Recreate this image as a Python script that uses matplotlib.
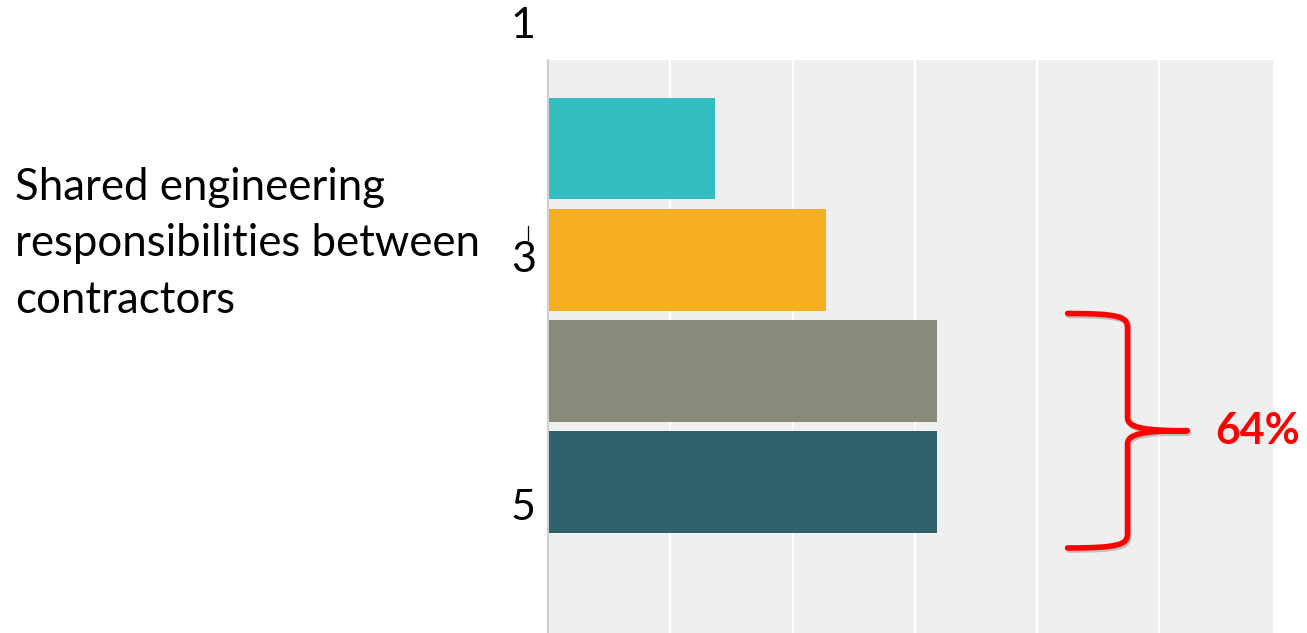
import numpy as np
import matplotlib.pyplot as plt
from matplotlib.path import Path
from matplotlib.patches import PathPatch
import matplotlib.patheffects as pe

plt.rcParams['font.family'] = ['Lato', 'DejaVu Sans']

# Survey answers for one statement (share of respondents, %)
question = 'Shared engineering\nresponsibilities between\ncontractors'
counts = [3, 5, 7, 7]
n_resp = sum(counts)
shares = [100 * c / n_resp for c in counts]
colors = ['#34BEC0', '#F6AF1F', '#898A79', '#2F616D']
scale_labels = ['1', '3', '5']
scale_label_y = [-1.10, 1.0, 3.23]
top_two = round(shares[2] + shares[3])

fig = plt.figure(figsize=(13.07, 6.33), dpi=100)
ax = fig.add_axes([548 / 1307, 0.0, 725 / 1307, 1 - 60 / 633])
ax.set_facecolor('#EFEFEF')

pos = np.arange(len(shares))
bar_h = 0.916
ax.barh(pos, shares, height=bar_h, color=colors, zorder=3)

ax.set_xlim(0, 59.3)
ax.set_ylim(4.352, -0.795)
ax.set_xticks(np.arange(10, 60, 10))
ax.set_yticks([])
ax.tick_params(axis='x', length=0, labelbottom=False)
ax.grid(axis='x', color='white', lw=1.6, zorder=1)
for s in ['top', 'right', 'bottom']:
    ax.spines[s].set_visible(False)
ax.spines['left'].set_color('#CFCFCF')
ax.spines['left'].set_linewidth(1.5)
ax.spines['left'].set_zorder(4)

# scale labels on the left of the bars
for lab, yv in zip(scale_labels, scale_label_y):
    ax.text(-0.017, yv, lab, transform=ax.get_yaxis_transform(),
            ha='right', va='center', fontsize=31, color='black', clip_on=False)
ax.plot([-0.028, -0.028], [0.70, 0.82], transform=ax.get_yaxis_transform(),
        color='black', lw=0.9, clip_on=False)

fig.text(15 / 1307, 1 - 244 / 633, question, ha='left', va='center',
         fontsize=31.5, color='black', linespacing=1.46)

# brace grouping the two highest answers
x0, xs, xt = 42.5, 47.4, 52.3
y0 = pos[2] - bar_h / 2 - 0.06
y1 = pos[3] + bar_h / 2 + 0.13
ym = (y0 + y1) / 2
verts = [(x0, y0), (xs - 0.6, y0), (xs, y0 + 0.03), (xs, y0 + 0.13),
         (xs, ym - 0.12),
         (xs, ym - 0.03), (xs + 1.2, ym), (xt, ym),
         (xs + 1.2, ym), (xs, ym + 0.03), (xs, ym + 0.12),
         (xs, y1 - 0.13),
         (xs, y1 - 0.03), (xs - 0.6, y1), (x0, y1)]
codes = [Path.MOVETO, Path.CURVE4, Path.CURVE4, Path.CURVE4,
         Path.LINETO,
         Path.CURVE4, Path.CURVE4, Path.CURVE4,
         Path.CURVE4, Path.CURVE4, Path.CURVE4,
         Path.LINETO,
         Path.CURVE4, Path.CURVE4, Path.CURVE4]
brace = PathPatch(Path(verts, codes), fill=False, edgecolor='#FF0000', lw=4,
                  capstyle='round', joinstyle='round', zorder=5, clip_on=False,
                  path_effects=[pe.SimpleLineShadow(offset=(1, -1.5), alpha=0.2),
                                pe.Normal()])
ax.add_patch(brace)

ax.text(54.6, ym, f'{top_two}%', ha='left', va='center', fontsize=31,
        fontweight='bold', color='#FF0000', clip_on=False, zorder=6)

fig.savefig('out.png', dpi=100)
